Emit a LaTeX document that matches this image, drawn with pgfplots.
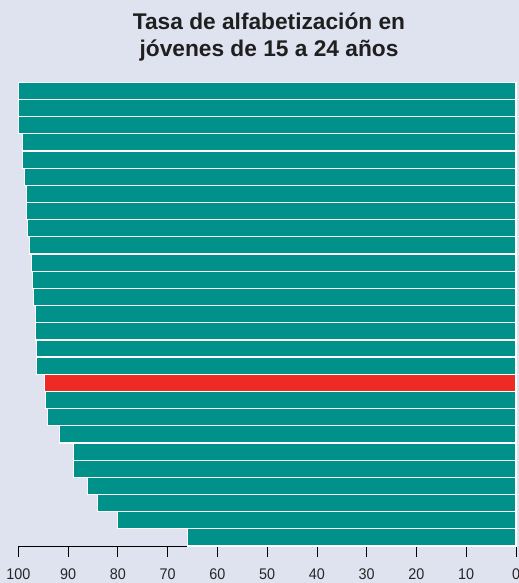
\documentclass[border=0pt]{standalone}
\usepackage{pgfplots}
\pgfplotsset{compat=1.18}
\usepackage{fontspec}
\setmainfont{Liberation Sans}
\newfontfamily\condfont{Liberation Sans}[FakeStretch=0.93]
\definecolor{bg}{HTML}{DFE3F0}
\definecolor{tealbar}{HTML}{00918A}
\definecolor{redbar}{HTML}{EE2A24}
\pgfplotstableread{
y v
1 100
2 100
3 99.9
4 99.1
5 99.1
6 98.7
7 98.4
8 98.3
9 98.2
10 97.7
11 97.3
12 97.2
13 97.0
14 96.6
15 96.6
16 96.4
17 96.3
19 94.5
20 94.2
21 91.7
22 88.9
23 88.9
24 86.1
25 84.1
26 80.1
27 66.0
}\tealdata
\pgfplotstableread{
y v
18 94.8
}\reddata
\begin{document}
\begin{tikzpicture}[x=1bp,y=1bp]
\fill[bg] (0,0) rectangle (519,583);
\useasboundingbox (0,0) rectangle (519,583);
\node[anchor=base, font=\bfseries\fontsize{22.8}{24}\selectfont, text=black!88] at (269,553) {Tasa de alfabetización en};
\node[anchor=base, font=\bfseries\fontsize{22.8}{24}\selectfont, text=black!88] at (269,526) {jóvenes de 15 a 24 años};
\begin{axis}[
  at={(18.3bp,37bp)}, anchor=south west,
  scale only axis, width=497.7bp, height=463.7bp,
  xmin=0, xmax=100, x dir=reverse,
  ymin=0.5, ymax=27.5, y dir=reverse,
  axis x line*=bottom, axis y line=none,
  axis line style={-, black, line width=0.8bp},
  xtick={0,10,...,100},
  ytick=\empty,
  tick align=outside, major tick length=11bp,
  tick style={black, line width=0.8bp},
  xticklabel style={font=\condfont\fontsize{15.5}{16}\selectfont, text=black!85, yshift=-8bp},
  /pgf/number format/assume math mode=true,
  xbar, bar width=1, bar shift=0pt,
  clip=false,
]
\addplot[fill=tealbar, draw=white, line width=1.2bp] table[x=v, y=y] {\tealdata};
\addplot[fill=redbar, draw=white, line width=1.2bp] table[x=v, y=y] {\reddata};
\end{axis}
\end{tikzpicture}
\end{document}
